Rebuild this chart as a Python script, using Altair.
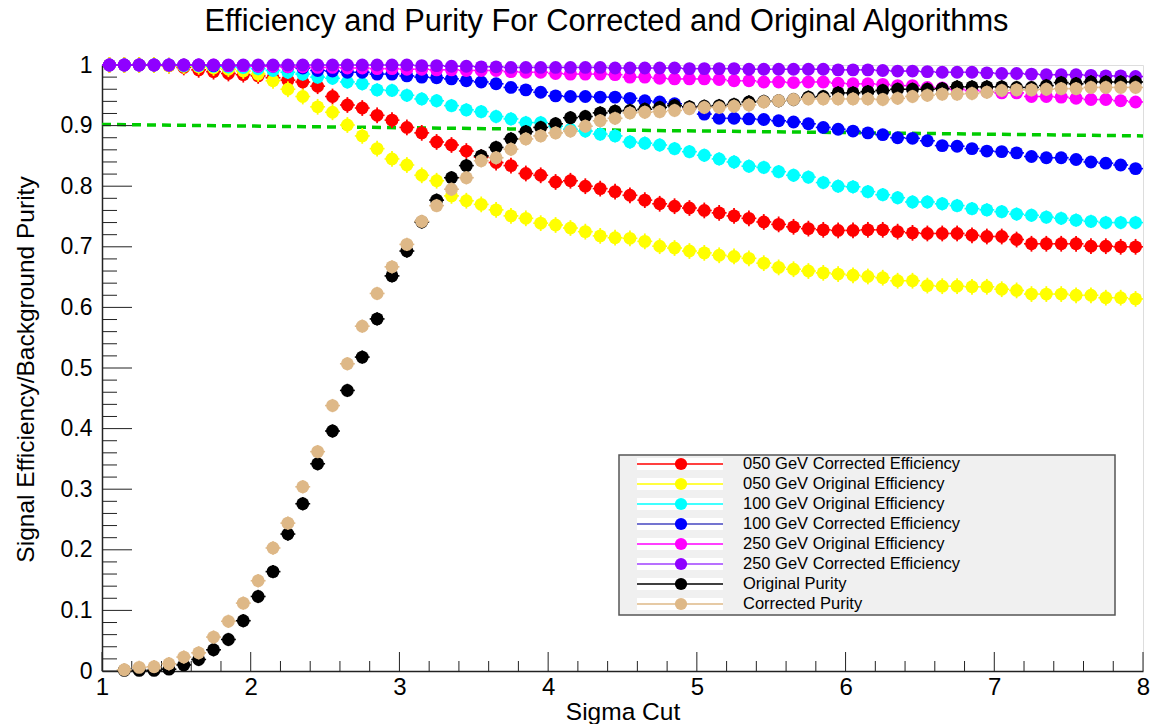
import altair as alt
import pandas as pd

# ---------------- data ----------------
SIGMA = [1.05, 1.15, 1.25, 1.35, 1.45, 1.55, 1.65, 1.75, 1.85, 1.95,
         2.05, 2.15, 2.25, 2.35, 2.45, 2.55, 2.65, 2.75, 2.85, 2.95,
         3.05, 3.15, 3.25, 3.35, 3.45, 3.55, 3.65, 3.75, 3.85, 3.95,
         4.05, 4.15, 4.25, 4.35, 4.45, 4.55, 4.65, 4.75, 4.85, 4.95,
         5.05, 5.15, 5.25, 5.35, 5.45, 5.55, 5.65, 5.75, 5.85, 5.95,
         6.05, 6.15, 6.25, 6.35, 6.45, 6.55, 6.65, 6.75, 6.85, 6.95,
         7.05, 7.15, 7.25, 7.35, 7.45, 7.55, 7.65, 7.75, 7.85, 7.95]

EFF_050_CORR = [1.000, 1.000, 1.000, 1.000, 0.999, 0.996, 0.992, 0.989, 0.986, 0.984,
                0.982, 0.979, 0.975, 0.972, 0.965, 0.948, 0.934, 0.929, 0.917, 0.909,
                0.897, 0.888, 0.873, 0.868, 0.858, 0.848, 0.839, 0.834, 0.821, 0.818,
                0.807, 0.809, 0.800, 0.796, 0.791, 0.785, 0.777, 0.771, 0.767, 0.764,
                0.760, 0.756, 0.751, 0.747, 0.741, 0.737, 0.733, 0.730, 0.728, 0.727,
                0.727, 0.728, 0.728, 0.725, 0.723, 0.722, 0.722, 0.722, 0.719, 0.717,
                0.717, 0.712, 0.705, 0.705, 0.705, 0.705, 0.701, 0.701, 0.700, 0.700]

EFF_050_ORIG = [1.000, 1.000, 1.000, 1.000, 0.999, 0.998, 0.997, 0.995, 0.993, 0.990,
                0.985, 0.974, 0.960, 0.948, 0.931, 0.922, 0.901, 0.883, 0.862, 0.845,
                0.835, 0.818, 0.809, 0.784, 0.776, 0.770, 0.761, 0.751, 0.747, 0.739,
                0.736, 0.731, 0.725, 0.718, 0.715, 0.714, 0.709, 0.701, 0.698, 0.693,
                0.690, 0.686, 0.684, 0.681, 0.673, 0.666, 0.663, 0.660, 0.657, 0.655,
                0.653, 0.651, 0.649, 0.644, 0.644, 0.636, 0.635, 0.635, 0.634, 0.634,
                0.630, 0.628, 0.622, 0.622, 0.622, 0.620, 0.620, 0.616, 0.616, 0.614]

EFF_100_ORIG = [1.000, 1.000, 1.000, 1.000, 1.000, 0.999, 0.999, 0.998, 0.997, 0.996,
                0.994, 0.991, 0.988, 0.985, 0.980, 0.978, 0.972, 0.969, 0.959, 0.958,
                0.950, 0.944, 0.941, 0.933, 0.926, 0.923, 0.915, 0.911, 0.905, 0.905,
                0.899, 0.894, 0.891, 0.886, 0.883, 0.873, 0.871, 0.868, 0.862, 0.857,
                0.851, 0.845, 0.840, 0.833, 0.831, 0.824, 0.818, 0.815, 0.806, 0.800,
                0.799, 0.791, 0.786, 0.781, 0.774, 0.774, 0.771, 0.768, 0.763, 0.761,
                0.758, 0.754, 0.752, 0.749, 0.747, 0.744, 0.742, 0.740, 0.740, 0.740]

EFF_100_CORR = [1.000, 1.000, 1.000, 1.000, 1.000, 1.000, 1.000, 0.999, 0.999, 0.999,
                0.998, 0.998, 0.997, 0.995, 0.991, 0.990, 0.988, 0.988, 0.985, 0.985,
                0.982, 0.980, 0.979, 0.977, 0.974, 0.972, 0.969, 0.963, 0.959, 0.955,
                0.949, 0.948, 0.948, 0.947, 0.947, 0.945, 0.941, 0.939, 0.936, 0.929,
                0.919, 0.912, 0.912, 0.911, 0.910, 0.908, 0.906, 0.903, 0.897, 0.894,
                0.891, 0.888, 0.885, 0.880, 0.879, 0.875, 0.867, 0.866, 0.862, 0.858,
                0.857, 0.855, 0.849, 0.847, 0.847, 0.844, 0.840, 0.838, 0.835, 0.829]

EFF_250_ORIG = [1.000, 1.000, 1.000, 1.000, 1.000, 1.000, 1.000, 1.000, 0.999, 0.999,
                0.998, 0.998, 0.997, 0.997, 0.996, 0.996, 0.995, 0.995, 0.994, 0.994,
                0.993, 0.993, 0.992, 0.992, 0.991, 0.991, 0.991, 0.989, 0.988, 0.988,
                0.986, 0.985, 0.985, 0.985, 0.984, 0.980, 0.980, 0.978, 0.977, 0.977,
                0.977, 0.976, 0.974, 0.974, 0.972, 0.972, 0.971, 0.972, 0.972, 0.970,
                0.969, 0.969, 0.968, 0.966, 0.966, 0.963, 0.962, 0.960, 0.958, 0.956,
                0.954, 0.954, 0.948, 0.948, 0.947, 0.945, 0.943, 0.943, 0.941, 0.939]

EFF_250_CORR = [1.000, 1.000, 1.000, 1.000, 1.000, 1.000, 1.000, 1.000, 1.000, 1.000,
                1.000, 1.000, 1.000, 1.000, 1.000, 1.000, 1.000, 1.000, 1.000, 1.000,
                1.000, 0.999, 0.999, 0.998, 0.998, 0.997, 0.997, 0.996, 0.996, 0.996,
                0.996, 0.996, 0.996, 0.996, 0.995, 0.995, 0.995, 0.995, 0.995, 0.994,
                0.994, 0.994, 0.994, 0.993, 0.993, 0.993, 0.993, 0.993, 0.993, 0.992,
                0.992, 0.992, 0.991, 0.990, 0.990, 0.989, 0.988, 0.988, 0.988, 0.987,
                0.986, 0.986, 0.985, 0.984, 0.984, 0.984, 0.983, 0.982, 0.982, 0.981]

PUR_ORIG = [None, 0.001, 0.001, 0.001, 0.003, 0.010, 0.019, 0.035, 0.052, 0.083,
            0.123, 0.164, 0.226, 0.276, 0.342, 0.396, 0.463, 0.518, 0.581, 0.652,
            0.693, 0.741, 0.777, 0.814, 0.834, 0.850, 0.864, 0.878, 0.890, 0.897,
            0.903, 0.913, 0.915, 0.921, 0.924, 0.925, 0.927, 0.930, 0.933, 0.931,
            0.932, 0.933, 0.935, 0.939, 0.940, 0.941, 0.943, 0.947, 0.948, 0.954,
            0.954, 0.956, 0.958, 0.960, 0.960, 0.960, 0.961, 0.964, 0.964, 0.964,
            0.964, 0.963, 0.963, 0.966, 0.971, 0.969, 0.972, 0.972, 0.972, 0.972]

PUR_CORR = [None, 0.002, 0.006, 0.007, 0.012, 0.023, 0.030, 0.056, 0.082, 0.112,
            0.149, 0.203, 0.244, 0.304, 0.362, 0.438, 0.507, 0.569, 0.623, 0.667,
            0.704, 0.742, 0.768, 0.795, 0.814, 0.842, 0.847, 0.861, 0.878, 0.883,
            0.888, 0.891, 0.899, 0.908, 0.912, 0.921, 0.922, 0.923, 0.925, 0.928,
            0.930, 0.930, 0.932, 0.934, 0.939, 0.941, 0.943, 0.944, 0.944, 0.944,
            0.944, 0.944, 0.943, 0.945, 0.948, 0.950, 0.952, 0.952, 0.953, 0.955,
            0.958, 0.959, 0.959, 0.960, 0.961, 0.961, 0.963, 0.963, 0.963, 0.963]

NAMES = ["050 GeV Corrected Efficiency", "050 GeV Original Efficiency",
         "100 GeV Original Efficiency", "100 GeV Corrected Efficiency",
         "250 GeV Original Efficiency", "250 GeV Corrected Efficiency",
         "Original Purity", "Corrected Purity"]
SERIES = [EFF_050_CORR, EFF_050_ORIG, EFF_100_ORIG, EFF_100_CORR,
          EFF_250_ORIG, EFF_250_CORR, PUR_ORIG, PUR_CORR]
ERRORS = [0.013, 0.013, 0.011, 0.008, 0.006, 0.004, 0.011, 0.011]
BIN_HALF_WIDTH = 0.05

COLORS = ["#ff0000", "#ffff00", "#00ffff", "#0000ff", "#ff00ff", "#8f00ff", "#000000", "#deb887"]
LINE_COLORS = ["#ff0000", "#ffff00", "#00ffff", "#4646c0", "#ff00ff", "#a040ff", "#000000", "#deb887"]

CUT_X = [1.0, 8.0]
CUT_Y = [0.902, 0.883]

X_LABELS = [1, 2, 3, 4, 5, 6, 7, 8]
X_MINOR = [1.2, 1.4, 1.6, 1.8, 2.2, 2.4, 2.6, 2.8, 3.2, 3.4, 3.6, 3.8,
           4.2, 4.4, 4.6, 4.8, 5.2, 5.4, 5.6, 5.8, 6.2, 6.4, 6.6, 6.8,
           7.2, 7.4, 7.6, 7.8]
Y_LABELS = [0.0, 0.1, 0.2, 0.3, 0.4, 0.5, 0.6, 0.7, 0.8, 0.9, 1.0]
Y_MINOR = [0.02, 0.04, 0.06, 0.08, 0.12, 0.14, 0.16, 0.18, 0.22, 0.24, 0.26, 0.28,
           0.32, 0.34, 0.36, 0.38, 0.42, 0.44, 0.46, 0.48, 0.52, 0.54, 0.56, 0.58,
           0.62, 0.64, 0.66, 0.68, 0.72, 0.74, 0.76, 0.78, 0.82, 0.84, 0.86, 0.88,
           0.92, 0.94, 0.96, 0.98]

TITLE = "Efficiency and Purity For Corrected and Original Algorithms"

# ---------------- layout ----------------
W, H = 1041, 606
FONT = "Liberation Sans"

xscale = alt.Scale(domain=[1, 8], nice=False, zero=False)
yscale = alt.Scale(domain=[0, 1], nice=False, zero=False)

xaxis = alt.Axis(values=X_LABELS, format="d", ticks=False, tickSize=0, grid=False,
                 domainColor="#222222", domainWidth=1.5, labelFlush=False, labelOverlap=False,
                 labelFont=FONT, labelFontSize=24, labelColor="black",
                 labelBaseline="alphabetic", labelPadding=23.5,
                 title="Sigma Cut", titleFont=FONT, titleFontSize=24.5,
                 titleFontWeight="normal", titleColor="black",
                 titleBaseline="alphabetic", titleY=48, titleX=W / 2)
yaxis = alt.Axis(values=Y_LABELS, format=".1~f", ticks=False, tickSize=0, grid=False,
                 domainColor="#222222", domainWidth=1.5, labelFlush=False, labelOverlap=False,
                 labelFont=FONT, labelFontSize=23, labelColor="black",
                 labelBaseline="middle", labelPadding=10,
                 title="Signal Efficiency/Background Purity", titleFont=FONT,
                 titleFontSize=24.5, titleFontWeight="normal", titleColor="black",
                 titleBaseline="alphabetic", titleX=-69, titleY=304, titleAngle=270,
                 titleAlign="center")


def X(field):
    return alt.X(field, scale=xscale, axis=xaxis)


def Y(field):
    return alt.Y(field, scale=yscale, axis=yaxis)


layers = []

# threshold line
cut_df = pd.DataFrame({"x": CUT_X, "y": CUT_Y})
layers.append(
    alt.Chart(cut_df).mark_line(color="#00cc00", strokeWidth=3.5, strokeDash=[9, 6]).encode(
        x=X("x:Q"), y=Y("y:Q")))

# inward ROOT-style ticks
layers.append(
    alt.Chart(pd.DataFrame({"t": Y_LABELS})).mark_rule(color="#222222", strokeWidth=1).encode(
        y=Y("t:Q"), x=alt.value(0), x2=alt.value(30)))
layers.append(
    alt.Chart(pd.DataFrame({"t": Y_MINOR})).mark_rule(color="#222222", strokeWidth=1).encode(
        y=Y("t:Q"), x=alt.value(0), x2=alt.value(15)))
layers.append(
    alt.Chart(pd.DataFrame({"t": X_LABELS})).mark_rule(color="#222222", strokeWidth=1).encode(
        x=X("t:Q"), y=alt.value(H), y2=alt.value(H - 19)))
layers.append(
    alt.Chart(pd.DataFrame({"t": X_MINOR})).mark_rule(color="#222222", strokeWidth=1).encode(
        x=X("t:Q"), y=alt.value(H), y2=alt.value(H - 10)))

# series: error bars + markers, drawn in legend order
for name, vals, err, col in zip(NAMES, SERIES, ERRORS, COLORS):
    d = pd.DataFrame({"x": SIGMA, "v": vals}).dropna()
    d["xlo"] = d["x"] - BIN_HALF_WIDTH
    d["xhi"] = d["x"] + BIN_HALF_WIDTH
    d["lo"] = (d["v"] - err).clip(lower=0)
    d["hi"] = d["v"] + err
    base = alt.Chart(d)
    layers.append(base.mark_rule(color=col, strokeWidth=1.6).encode(
        x=X("xlo:Q"), x2="xhi:Q", y=Y("v:Q")))
    layers.append(base.mark_rule(color=col, strokeWidth=1.8).encode(
        x=X("x:Q"), y=Y("lo:Q"), y2="hi:Q"))
    layers.append(base.mark_circle(color=col, size=165, opacity=1).encode(
        x=X("x:Q"), y=Y("v:Q")))

# legend (ROOT TLegend look), drawn in pixel space
one = pd.DataFrame({"a": [0]})
layers.append(
    alt.Chart(one).mark_rect(fill="#f0f0f0", stroke="#555555", strokeWidth=1.5).encode(
        x=alt.value(517), x2=alt.value(1013), y=alt.value(390), y2=alt.value(550)))
for row, (name, col, lcol) in enumerate(zip(NAMES, COLORS, LINE_COLORS)):
    ly = 399 + 20 * row
    layers.append(alt.Chart(one).mark_rect(fill="white").encode(
        x=alt.value(535), x2=alt.value(621), y=alt.value(ly - 6), y2=alt.value(ly + 6)))
    layers.append(alt.Chart(one).mark_rule(color=lcol, strokeWidth=1.5).encode(
        x=alt.value(535), x2=alt.value(621), y=alt.value(ly)))
    layers.append(alt.Chart(one).mark_circle(color=col, size=150, opacity=1).encode(
        x=alt.value(579), y=alt.value(ly)))
    layers.append(alt.Chart(one).mark_text(align="left", baseline="middle", font=FONT,
                                           fontSize=16.5, color="black", text=name).encode(
        x=alt.value(641), y=alt.value(ly)))

# chart title as a text mark
layers.append(alt.Chart(one).mark_text(align="center", baseline="alphabetic", font=FONT,
                                       fontSize=30.8, color="black", text=TITLE).encode(
    x=alt.value(504.5), y=alt.value(-34.5)))

chart = alt.layer(*layers).properties(
    width=W, height=H,
    autosize=alt.AutoSizeParams(type="none"),
    padding={"left": 102, "top": 65, "right": 14, "bottom": 53},
).configure_view(stroke="#3c3c3c", strokeWidth=1.5).configure(background="white")

chart.save("out.html", embed_options={"renderer": "svg", "actions": False})
